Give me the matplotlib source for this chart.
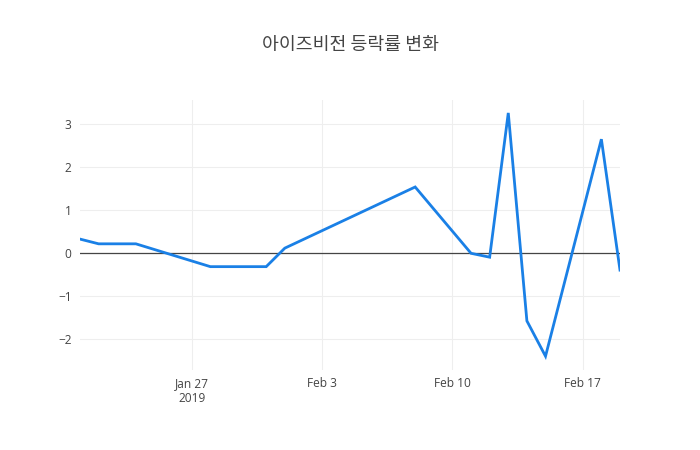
import datetime as dt

import matplotlib
matplotlib.use('Agg')
import matplotlib.pyplot as plt
import matplotlib.dates as mdates

dates = ['2019-01-21', '2019-01-22', '2019-01-24', '2019-01-28', '2019-01-31',
         '2019-02-01', '2019-02-08', '2019-02-11', '2019-02-12', '2019-02-13',
         '2019-02-14', '2019-02-15', '2019-02-18', '2019-02-19']
change = [0.33, 0.22, 0.22, -0.31, -0.31,
          0.12, 1.54, 0.0, -0.09, 3.26,
          -1.57, -2.39, 2.65, -0.39]
title = '아이즈비전 등락률 변화'
tick_dates = ['2019-01-27', '2019-02-03', '2019-02-10', '2019-02-17']
tick_labels = ['Jan 27\n2019', 'Feb 3', 'Feb 10', 'Feb 17']

x = [dt.datetime.strptime(d, '%Y-%m-%d') for d in dates]
tx = [dt.datetime.strptime(d, '%Y-%m-%d') for d in tick_dates]

plt.rcParams['font.family'] = ['Open Sans', 'DejaVu Sans']

fig = plt.figure(figsize=(7, 4.5), dpi=100)
ax = fig.add_axes([80 / 700, 80 / 450, 540 / 700, 270 / 450])

ax.plot(x, change, color='#1a80e6', linewidth=2, solid_joinstyle='miter', zorder=3)
ax.axhline(0, color='#444444', linewidth=0.9, zorder=2)

ax.set_xlim(x[0], x[-1])
ax.set_ylim(-2.71, 3.56)
ax.set_yticks([-2, -1, 0, 1, 2, 3])
ax.set_yticklabels(['\u22122', '\u22121', '0', '1', '2', '3'])
ax.set_xticks(mdates.date2num(tx))
ax.set_xticklabels(tick_labels)

ax.grid(True, color='#eeeeee', linewidth=0.8, zorder=0)
for s in ax.spines.values():
    s.set_visible(False)
ax.tick_params(length=0, labelsize=8.6, labelcolor='#444444')
ax.tick_params(axis='x', pad=5)
ax.tick_params(axis='y', pad=6)

fig.text(0.5, 1 - 45 / 450, title, ha='center', va='center', fontsize=13.2,
         color='#444444', fontweight='medium',
         family=['Noto Sans CJK KR', 'DejaVu Sans'])

fig.savefig('out.png', dpi=100)
